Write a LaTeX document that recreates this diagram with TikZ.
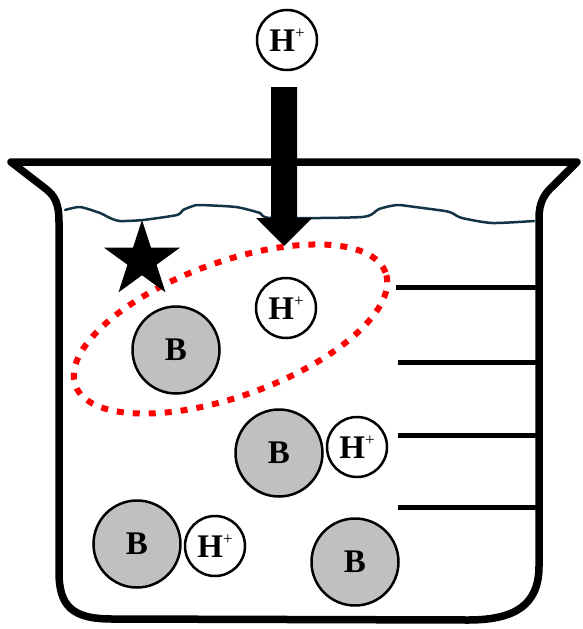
\documentclass[tikz,border=0pt]{standalone}
\usepackage{fontspec}
\setmainfont{Liberation Serif}
\usetikzlibrary{shapes.geometric}
\definecolor{basegray}{RGB}{192,192,192}
\definecolor{watercol}{RGB}{18,52,68}
\newcommand\hplus{H\raisebox{13pt}{\fontsize{17}{17}\selectfont\mdseries +}}
\begin{document}
\begin{tikzpicture}[x=1pt,y=-1pt,
  beaker/.style={line width=7.5pt, line join=round, line cap=round},
  grad/.style={line width=5pt},
  base/.style={circle, draw, line width=2.5pt, fill=basegray, minimum size=87pt, inner sep=0pt, font=\fontsize{33}{34}\selectfont\bfseries},
  proton/.style={circle, draw, line width=2.5pt, fill=white, minimum size=60pt, inner sep=0pt, font=\fontsize{33}{34}\selectfont\bfseries},
  water/.style={draw=watercol, line width=2.5pt, line cap=round},
  region/.style={draw=red, line width=6pt, dash pattern=on 7pt off 9pt},
  blockarrow/.style={fill=black}
]
\useasboundingbox (0,0) rectangle (582,629);

% water surface
\draw[water] plot[smooth, tension=0.4] coordinates {(65,210) (80,207) (100,213) (110,218) (120,221) (143,220) (177,215) (183,210) (193,206) (200,205) (236,207) (260,213) (271,218) (362,217) (379,209) (397,205) (415,207) (445,211) (452,213) (462,218) (492,223) (534,221)};

% graduation marks
\draw[grad] (396,287) -- (539,287);
\draw[grad] (398,362) -- (539,362);
\draw[grad] (398,435) -- (539,435);
\draw[grad] (398,507) -- (539,507);

% dotted region
\coordinate (ec) at (230.5,329);
\draw[region, rotate around={20:(ec)}] (ec) ellipse[x radius=165pt, y radius=67pt];

% particles
\node[proton] (htop) at (287,40) {\hplus};
\node[proton] (h1) at (286,308) {\hplus};
\node[base] (b1) at (176,350) {B};
\node[base] (b2) at (279,453) {B};
\node[proton] (h2) at (357,447) {\hplus};
\node[base] (b3) at (137,544) {B};
\node[proton] (h3) at (215,546) {\hplus};
\node[base] (b4) at (355,562) {B};

% star
\node[star, star points=5, star point ratio=2.618, minimum size=80pt, inner sep=0pt, fill=black] (star) at (142,260) {};

% arrow
\fill[blockarrow] (271,87) -- (297,87) -- (297,218) -- (312,218) -- (284,246) -- (256,218) -- (271,218) -- cycle;

% beaker
\draw[beaker] (577,162) -- (11,162) -- (46,189) .. controls (55,196) and (59,204) .. (59,222) -- (59,572) .. controls (59,606) and (72,619) .. (112,619) -- (468,620) .. controls (515,620) and (539,605) .. (539,566) -- (539,218) .. controls (539,203) and (544,194) .. (553,186) -- cycle;
\end{tikzpicture}
\end{document}
